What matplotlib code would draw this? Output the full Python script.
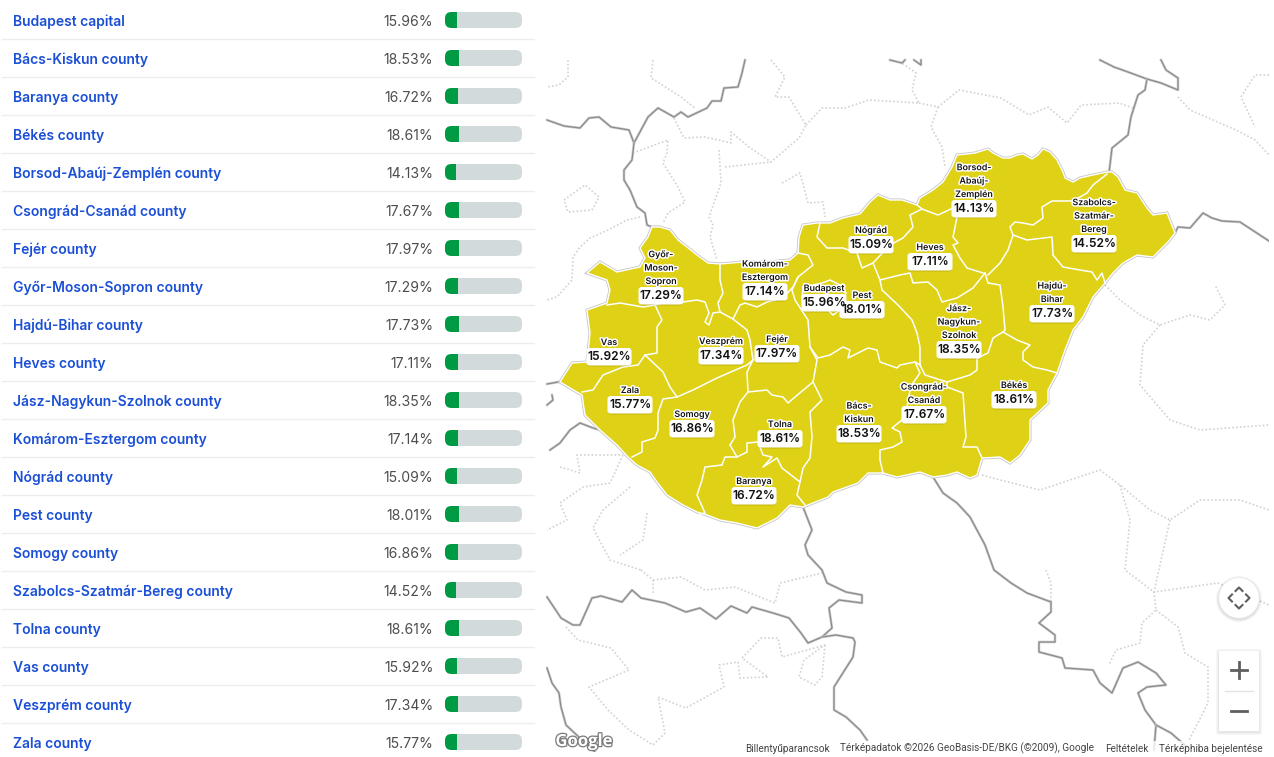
import matplotlib
matplotlib.use("Agg")
import matplotlib.pyplot as plt
import matplotlib.patheffects as pe
from matplotlib.patches import FancyBboxPatch, Polygon, Circle, Rectangle

# === data ===
COUNTIES = ["Budapest capital", "Bács-Kiskun county", "Baranya county", "Békés county",
            "Borsod-Abaúj-Zemplén county", "Csongrád-Csanád county", "Fejér county",
            "Győr-Moson-Sopron county", "Hajdú-Bihar county", "Heves county",
            "Jász-Nagykun-Szolnok county", "Komárom-Esztergom county", "Nógrád county",
            "Pest county", "Somogy county", "Szabolcs-Szatmár-Bereg county", "Tolna county",
            "Vas county", "Veszprém county", "Zala county"]
VALUES = [15.96, 18.53, 16.72, 18.61, 14.13, 17.67, 17.97, 17.29, 17.73, 17.11,
          18.35, 17.14, 15.09, 18.01, 16.86, 14.52, 18.61, 15.92, 17.34, 15.77]

# map labels: name lines, value, value box centre (all map data is in screen pixels)
MAP_NAMES = [["Budapest"], ["Bács-", "Kiskun"], ["Baranya"], ["Békés"],
             ["Borsod-", "Abaúj-", "Zemplén"], ["Csongrád-", "Csanád"], ["Fejér"],
             ["Győr-", "Moson-", "Sopron"], ["Hajdú-", "Bihar"], ["Heves"],
             ["Jász-", "Nagykun-", "Szolnok"], ["Komárom-", "Esztergom"], ["Nógrád"],
             ["Pest"], ["Somogy"], ["Szabolcs-", "Szatmár-", "Bereg"], ["Tolna"],
             ["Vas"], ["Veszprém"], ["Zala"]]
MAP_X = [824, 859, 754, 1014, 974, 924, 777, 661, 1052, 930, 959, 765, 871, 862, 692, 1094, 780, 609, 721, 630]
MAP_Y = [303, 434, 496, 400, 209, 415, 354, 296, 314, 262, 350, 292, 245, 310, 429, 244, 439, 357, 356, 405]
MAP_VALUES = [15.96, 18.53, 16.72, 18.61, 14.13, 17.67, 17.97, 17.29, 17.73, 17.11,
              18.35, 17.14, 15.09, 18.01, 16.86, 14.52, 18.61, 15.92, 17.34, 15.77]

HUNGARY = [(652, 227), (660, 227), (670, 230), (678, 240), (687, 247), (697, 255), (708, 263), (720, 264),
           (743, 262), (767, 262), (790, 260), (798, 253), (799, 237), (803, 225), (817, 223), (830, 223),
           (843, 218), (860, 214), (870, 202), (878, 195), (890, 200), (902, 200), (917, 205), (920, 198),
           (933, 190), (943, 182), (952, 167), (957, 155), (967, 154), (975, 153), (988, 149), (993, 153),
           (1003, 158), (1010, 158), (1017, 155), (1023, 154), (1032, 159), (1038, 155), (1043, 149),
           (1050, 152), (1057, 160), (1063, 172), (1065, 178), (1073, 182), (1080, 178),
           (1093, 175), (1107, 172), (1112, 172), (1118, 177), (1125, 190), (1137, 193), (1147, 208),
           (1153, 215), (1167, 213), (1175, 233), (1168, 242), (1153, 257), (1137, 255), (1123, 263),
           (1113, 273), (1105, 283), (1093, 297), (1083, 317), (1073, 330), (1065, 350), (1057, 373),
           (1048, 390), (1048, 403), (1030, 420), (1030, 440), (1020, 455), (1010, 463), (1000, 457),
           (982, 458), (977, 475), (970, 478), (957, 472), (947, 475), (933, 477), (920, 472), (897, 477),
           (883, 473), (868, 473), (858, 483), (833, 492), (828, 497), (813, 503), (803, 507), (790, 505),
           (777, 518), (757, 528), (737, 523), (720, 520), (707, 515), (697, 512), (683, 505), (667, 495),
           (657, 482), (650, 472), (637, 465), (628, 457), (617, 445), (600, 430), (585, 415), (582, 395), (560, 382),
           (572, 363), (587, 362), (590, 333), (587, 310), (607, 303), (610, 290), (607, 280), (587, 273),
           (600, 262), (617, 272), (640, 267), (645, 258), (640, 248), (648, 237)]

COUNTY_LINES = [
    [(607, 305), (620, 303), (643, 307), (655, 305), (663, 303), (683, 302), (697, 300), (705, 302), (709, 313),
     (705, 322), (709, 325), (713, 313), (720, 312)],
    [(720, 264), (720, 280), (723, 293), (718, 303), (720, 312), (733, 319), (740, 305), (745, 303), (757, 307),
     (767, 302), (783, 298), (793, 287), (798, 277), (813, 265), (808, 255), (798, 253)],
    [(798, 277), (792, 290), (795, 300), (808, 320), (810, 347), (818, 358), (830, 355), (843, 347), (850, 350),
     (848, 358), (868, 348), (877, 350), (880, 362), (897, 368), (900, 365), (915, 362), (920, 365), (925, 375),
     (947, 382), (970, 375), (977, 370), (977, 358), (988, 353), (993, 338), (1003, 332)],
    [(820, 223), (817, 237), (827, 248), (843, 248), (857, 253), (862, 268), (873, 263), (890, 245), (903, 238),
     (913, 227), (910, 215), (922, 209), (917, 205)],
    [(922, 209), (938, 215), (953, 208), (957, 217), (953, 237), (958, 243), (953, 245), (960, 258), (967, 268),
     (983, 273)],
    [(873, 263), (880, 280), (900, 275), (910, 273), (913, 283), (928, 282), (937, 290), (942, 302), (957, 298),
     (973, 288), (985, 273)],
    [(880, 280), (882, 290), (898, 305), (912, 320), (917, 333), (920, 347), (920, 365)],
    [(915, 362), (920, 373), (913, 383), (910, 390), (907, 407), (902, 420), (892, 428), (900, 432), (902, 442),
     (893, 447), (880, 450), (880, 460), (883, 473)],
    [(947, 382), (947, 387), (963, 393), (966, 437), (963, 447), (977, 447), (982, 458)],
    [(985, 273), (988, 283), (1000, 285), (1003, 307), (1005, 330), (1003, 332), (1017, 340), (1030, 345),
     (1023, 352), (1023, 360), (1033, 367), (1047, 370), (1057, 373)],
    [(988, 275), (1000, 263), (1008, 250), (1013, 235), (1010, 227), (1015, 222), (1023, 223), (1033, 225),
     (1043, 218), (1042, 207), (1052, 201), (1073, 201), (1087, 193), (1093, 185), (1107, 174)],
    [(1013, 235), (1027, 240), (1052, 237), (1053, 255), (1063, 267), (1080, 270), (1092, 272), (1097, 280),
     (1102, 273), (1105, 283)],
    [(655, 305), (662, 320), (657, 327), (657, 340), (657, 353), (645, 355), (638, 365), (623, 367), (603, 375),
     (593, 390), (582, 392)],
    [(645, 355), (663, 372), (670, 387), (677, 397), (693, 390), (717, 378), (747, 365), (753, 360), (750, 340),
     (747, 330), (733, 319)],
    [(677, 397), (663, 399), (658, 413), (658, 430), (655, 438), (642, 442), (642, 452), (632, 457)],
    [(753, 360), (747, 372), (748, 392), (767, 390), (772, 395), (783, 397), (788, 403), (795, 397), (813, 382),
     (817, 360), (810, 347)],
    [(813, 382), (822, 400), (810, 412), (812, 437), (810, 458), (803, 468), (800, 482), (797, 495), (805, 505)],
    [(748, 392), (740, 402), (733, 420), (735, 437), (730, 445), (737, 457), (725, 457), (722, 465), (705, 467),
     (702, 480), (697, 495), (705, 513), (700, 514)],
    [(737, 457), (747, 452), (747, 443), (758, 442), (763, 455), (772, 457), (763, 467), (777, 458), (782, 468),
     (800, 482)],
    [(803, 287), (813, 285), (822, 283), (830, 280), (840, 285), (846, 293), (840, 310), (833, 315), (828, 310),
     (802, 300), (803, 287)],
]

STATE_BORDERS = [
    [(547, 120), (564, 126), (580, 128), (589, 118), (599, 117), (611, 127), (629, 130), (634, 143), (648, 117),
     (658, 108), (674, 117), (681, 112), (688, 117), (707, 108), (712, 101), (721, 101), (724, 88), (738, 87),
     (742, 73), (745, 60)],
    [(634, 143), (632, 160), (624, 170), (624, 180), (630, 190), (637, 207), (645, 213), (647, 225), (652, 227)],
    [(1100, 60), (1114, 67), (1128, 72), (1147, 79), (1145, 90), (1138, 95), (1131, 117), (1128, 135), (1112, 148),
     (1109, 173)],
    [(1147, 79), (1161, 83), (1178, 90), (1178, 78), (1166, 70), (1161, 60)],
    [(890, 60), (902, 63), (905, 60)],
    [(914, 60), (921, 65), (921, 60)],
    [(1175, 233), (1178, 227), (1190, 228), (1203, 213), (1212, 218), (1222, 221), (1240, 222), (1269, 241)],
    [(933, 477), (943, 493), (957, 503), (970, 517), (985, 545), (994, 570), (1011, 583), (1027, 593), (1051, 602),
     (1051, 612), (1039, 623), (1055, 635), (1055, 642), (1039, 642), (1039, 652), (1062, 658), (1065, 668),
     (1093, 670), (1100, 683), (1112, 693), (1123, 668), (1138, 662), (1156, 673), (1166, 685), (1147, 687),
     (1138, 693), (1145, 710), (1156, 725), (1154, 750)],
    [(1156, 725), (1171, 733), (1187, 747)],
    [(803, 507), (812, 530), (805, 545), (808, 555), (822, 570), (827, 583), (846, 592), (862, 595), (862, 603),
     (839, 600), (829, 608), (832, 628), (822, 637), (808, 643), (801, 633), (789, 618), (773, 613), (752, 607),
     (747, 613), (731, 606), (716, 619), (700, 608), (686, 612), (665, 603), (641, 598), (632, 590), (622, 602),
     (601, 596), (592, 598), (580, 625), (573, 625), (561, 618), (547, 597)],
    [(822, 637), (836, 635), (853, 638), (855, 642), (853, 657), (834, 687), (834, 710), (846, 717), (860, 730),
     (867, 740)],
    [(547, 668), (552, 683), (559, 693), (561, 707), (566, 725), (582, 740), (596, 753)],
    [(550, 450), (560, 443), (570, 430), (580, 423), (593, 428), (600, 430)],
    [(547, 405), (553, 400), (552, 395)],
    [(547, 384), (558, 382), (560, 382)],
]

REGION_LINES = [
    [(568, 60), (568, 77), (559, 85), (547, 87)],
    [(653, 60), (651, 78), (681, 97), (695, 108)],
    [(674, 118), (684, 138), (705, 137), (731, 143), (731, 132), (749, 147), (771, 162), (799, 138), (806, 125),
     (789, 97), (775, 97), (785, 77), (771, 60)],
    [(806, 125), (822, 108), (845, 108), (869, 100), (919, 103), (912, 90), (916, 73), (902, 63)],
    [(919, 103), (938, 107), (959, 90), (1001, 98), (1029, 115), (1048, 107), (1067, 123), (1081, 105), (1119, 103),
     (1133, 108)],
    [(938, 107), (931, 127), (942, 147), (945, 167)],
    [(633, 153), (668, 140), (667, 153), (663, 163), (678, 187), (685, 202), (668, 213), (663, 223)],
    [(719, 150), (721, 183), (709, 217), (713, 225), (710, 237), (717, 260)],
    [(725, 167), (771, 162)],
    [(782, 183), (800, 173), (808, 203), (823, 202), (825, 217)],
    [(1178, 97), (1190, 110), (1236, 130), (1255, 140), (1269, 155)],
    [(1269, 75), (1255, 75), (1241, 97), (1255, 127)],
    [(564, 200), (585, 185), (599, 197), (592, 210), (568, 212), (564, 200)],
    [(640, 217), (627, 220), (608, 230), (590, 238), (580, 247), (573, 257), (572, 280), (557, 297), (547, 300)],
    [(1105, 285), (1120, 300), (1140, 315), (1160, 325), (1190, 315), (1210, 320), (1225, 305), (1215, 285)],
    [(1160, 325), (1143, 345), (1140, 385), (1170, 420), (1200, 430), (1269, 425)],
    [(982, 475), (1000, 480), (1040, 490), (1070, 480), (1100, 470), (1120, 485), (1150, 510), (1170, 520),
     (1200, 500), (1240, 500), (1269, 510)],
    [(1120, 485), (1130, 520), (1125, 570), (1154, 592), (1156, 610), (1142, 623), (1140, 643), (1116, 650),
     (1109, 665)],
    [(1170, 520), (1154, 592), (1218, 583), (1269, 605)],
    [(1156, 610), (1178, 627), (1185, 653), (1208, 667), (1208, 703), (1189, 740)],
    [(1046, 570), (1051, 583), (1051, 602)],
    [(566, 627), (578, 640), (611, 648), (629, 670), (589, 687), (608, 710), (629, 730), (653, 745), (665, 733),
     (658, 697), (686, 708), (724, 687), (719, 665), (738, 662), (740, 678), (768, 677), (742, 658), (761, 638),
     (778, 638), (782, 657), (825, 645)],
    [(825, 645), (822, 677), (815, 685), (799, 677), (804, 660), (825, 645)],
    [(641, 570), (653, 580), (653, 593)],
    [(653, 580), (681, 577), (705, 590), (735, 587), (775, 603), (780, 583), (822, 573)],
    [(560, 467), (580, 473), (577, 455), (623, 455)],
    [(623, 455), (610, 483), (583, 487), (560, 503), (567, 520), (547, 530)],
    [(630, 487), (603, 510), (593, 528), (610, 560), (641, 570)],
    [(647, 513), (643, 540), (620, 555)],
]

TABLE_LEFT = 13
BAR_LEFT = 445
BAR_WIDTH = 77
ROW_H = 38
FIRST_ROW = 21

plt.rcParams["font.family"] = ["Inter", "DejaVu Sans"]

fig = plt.figure(figsize=(12.74, 7.57), dpi=100)
ax = fig.add_axes([0, 0, 1, 1])
ax.set_xlim(0, 1274)
ax.set_ylim(757, 0)
ax.axis("off")

# table on the left
for i, (name, val) in enumerate(zip(COUNTIES, VALUES)):
    y = FIRST_ROW + i * ROW_H
    ax.text(TABLE_LEFT, y + 0.6, name, fontsize=10, fontweight=600, color="#1a4fd6", va="center", ha="left")
    ax.text(433.5, y + 0.6, f"{val:.2f}%", fontsize=10.1, color="#4d4d4d", va="center", ha="right")
    track = FancyBboxPatch((BAR_LEFT, y - 9), BAR_WIDTH, 16, boxstyle="round,pad=0,rounding_size=6.5",
                           fc="#d3dadb", ec="none", zorder=2)
    ax.add_patch(track)
    bar = ax.barh(y - 1, BAR_WIDTH * val / 100, height=16, left=BAR_LEFT, color="#009a44", zorder=3)
    bar[0].set_clip_path(track)
    if i < len(COUNTIES) - 1:
        ax.plot([2, 534], [y + 18, y + 18], color="#eceeee", lw=1, zorder=1)

# map background
map_clip = Rectangle((546, 58), 723, 694, transform=ax.transData)
for line in REGION_LINES:
    xs, ys = zip(*line)
    l, = ax.plot(xs, ys, color="#d2d2d2", lw=1.2, ls=(0, (1, 1.3)), zorder=2)
    l.set_clip_path(map_clip)
for line in STATE_BORDERS:
    xs, ys = zip(*line)
    l, = ax.plot(xs, ys, color="#c4c4c4", lw=1.8, zorder=3, solid_joinstyle="round")
    l.set_clip_path(map_clip)
    l2, = ax.plot(xs, ys, color="#8a8a8a", lw=0.8, zorder=3, solid_joinstyle="round")
    l2.set_clip_path(map_clip)

# Hungary
ax.add_patch(Polygon(HUNGARY, closed=True, fc="none", ec="#c6c6c6", lw=2.2, zorder=4))
ax.add_patch(Polygon(HUNGARY, closed=True, fc="#dfd116", ec="white", lw=1, zorder=5))
for line in COUNTY_LINES:
    xs, ys = zip(*line)
    ax.plot(xs, ys, color="white", lw=1.1, zorder=6, solid_joinstyle="round")

# map labels
halo = [pe.withStroke(linewidth=2.2, foreground="white")]
for names, x, y, val in zip(MAP_NAMES, MAP_X, MAP_Y, MAP_VALUES):
    for j, part in enumerate(names):
        yy = y - 14.5 - 13.4 * (len(names) - 1 - j)
        ax.text(x, yy, part, fontsize=6.4, fontweight=600, color="#111111", ha="center", va="center",
                path_effects=halo, zorder=9)
    ax.add_patch(FancyBboxPatch((x - 22, y - 8.5), 44, 18, boxstyle="round,pad=0,rounding_size=3",
                                fc="#000000", alpha=0.13, ec="none", zorder=7))
    ax.add_patch(FancyBboxPatch((x - 22.5, y - 9), 45, 17.5, boxstyle="round,pad=0,rounding_size=3",
                                fc="white", ec="none", zorder=8))
    ax.text(x, y, f"{val:.2f}%", fontsize=8.6, fontweight=600, color="#111111", ha="center", va="center", zorder=9)

# map controls, soft shadow made of a few faint layers
for grow in (3, 2, 1):
    ax.add_patch(Circle((1239, 599), 20 + grow, fc="#000000", alpha=0.04, ec="none", zorder=7))
    ax.add_patch(FancyBboxPatch((1219 - grow, 652 - grow), 40 + 2 * grow, 80 + 2 * grow,
                                boxstyle="round,pad=0,rounding_size=2", fc="#000000", alpha=0.03, ec="none", zorder=7))
ax.add_patch(Circle((1239, 598), 20, fc="white", ec="none", zorder=8))
ax.plot([1235.5, 1239, 1242.5], [591, 587.5, 591], color="#5f5f5f", lw=1.5, zorder=9)
ax.plot([1235.5, 1239, 1242.5], [605, 608.5, 605], color="#5f5f5f", lw=1.5, zorder=9)
ax.plot([1232, 1228.5, 1232], [594.5, 598, 601.5], color="#5f5f5f", lw=1.5, zorder=9)
ax.plot([1246, 1249.5, 1246], [594.5, 598, 601.5], color="#5f5f5f", lw=1.5, zorder=9)

ax.add_patch(Rectangle((1219, 651), 40, 80, fc="white", ec="none", zorder=8))
ax.plot([1225, 1253], [691, 691], color="#e3e3e3", lw=1, zorder=9)
ax.plot([1231, 1247], [670, 670], color="#5f5f5f", lw=2, zorder=9)
ax.plot([1239, 1239], [662, 678], color="#5f5f5f", lw=2, zorder=9)
ax.plot([1231, 1247], [711, 711], color="#5f5f5f", lw=2, zorder=9)

# attribution strip
ax.add_patch(Rectangle((740, 741), 529, 12, fc="white", alpha=0.8, ec="none", zorder=8))
ATTRIB = ["Billentyűparancsok", "Térképadatok ©2026 GeoBasis-DE/BKG (©2009), Google", "Feltételek",
          "Térképhiba bejelentése"]
ATTRIB_X = [787, 967, 1127, 1211]
for label, x in zip(ATTRIB, ATTRIB_X):
    ax.text(x, 748.5, label, fontsize=7.2, family="Roboto", color="#444444", ha="center", va="center", zorder=9)
ax.text(584, 741, "Google", fontsize=12, family="Open Sans", fontweight="bold", color="#ffffff", ha="center",
        va="center", zorder=9, path_effects=[pe.withStroke(linewidth=1.8, foreground="#7a7a7a")])

fig.savefig("out.png", dpi=100)
